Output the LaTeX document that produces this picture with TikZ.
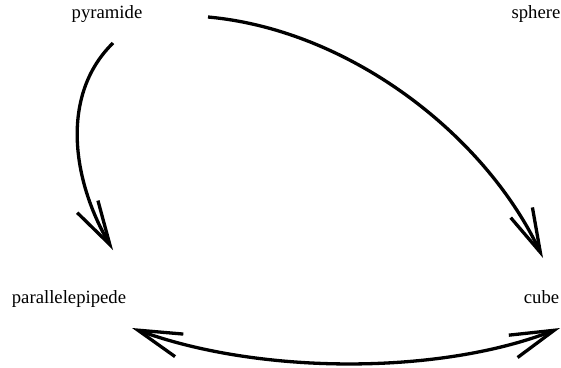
\documentclass[tikz,border=0pt]{standalone}
\usepackage{fontspec}
\setmainfont{Liberation Serif}
\usetikzlibrary{arrows.meta}
\begin{document}
\begin{tikzpicture}[x=1pt,y=-1pt,
  lbl/.style={inner sep=0pt,anchor=base,font=\fontsize{18.7}{20}\selectfont},
  conn/.style={line width=3.3pt,-{Straight Barb[length=44pt,width=24pt]}},
  conn2/.style={line width=3.3pt,{Straight Barb[length=44pt,width=24pt]}-{Straight Barb[length=44pt,width=24pt]}}]
\useasboundingbox (0,0) rectangle (561,367);
\node[lbl] (pyr) at (107,18) {pyramide};
\node[lbl] (sph) at (536,18) {sphere};
\node[lbl] (par) at (69,303) {parallelepipede};
\node[lbl] (cub) at (541.5,303) {cube};
\draw[conn] ([shift={(6,25)}]pyr.base) .. controls (60,95) and (72,180) .. ([shift={(44,-53)}]par.base);
\draw[conn] ([shift={(101,-1)}]pyr.base) .. controls (350,30) and (485,135) .. ([shift={(1.5,-45)}]cub.base);
\draw[conn2] ([shift={(63,25)}]par.base) .. controls (260,375) and (440,375) .. ([shift={(18.5,25)}]cub.base);
\end{tikzpicture}
\end{document}
